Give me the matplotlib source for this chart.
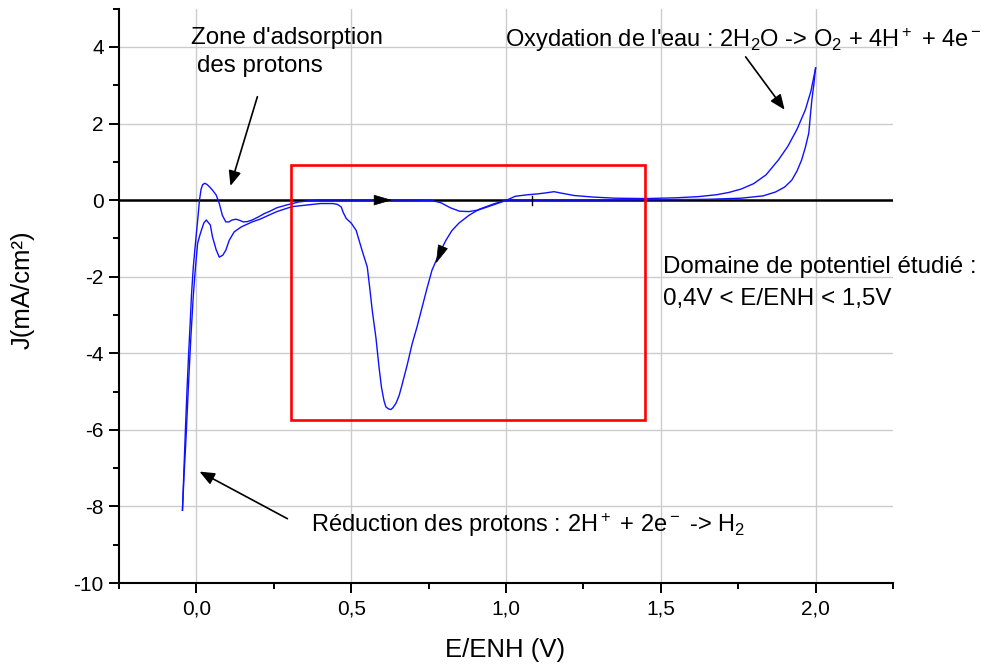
import matplotlib
matplotlib.use('Agg')
import matplotlib.pyplot as plt
from matplotlib.patches import Rectangle
from matplotlib.ticker import MultipleLocator, FuncFormatter

plt.rcParams['font.family'] = ['Liberation Sans', 'DejaVu Sans']
plt.rcParams['mathtext.fontset'] = 'custom'
plt.rcParams['mathtext.rm'] = 'Liberation Sans'
plt.rcParams['mathtext.it'] = 'Liberation Sans:italic'
plt.rcParams['mathtext.bf'] = 'Liberation Sans:bold'
plt.rcParams['axes.unicode_minus'] = False

# ---- data: forward (anodic) scan ----
E_fwd = [-0.045, -0.040, -0.035, -0.030, -0.025, -0.020, -0.016, -0.010, -0.005, 0.000,
         0.005, 0.010, 0.015, 0.020, 0.027, 0.034, 0.042, 0.053, 0.064, 0.074,
         0.084, 0.095, 0.105, 0.115, 0.128, 0.140, 0.152, 0.165, 0.180, 0.200,
         0.220, 0.235, 0.260, 0.290, 0.330, 0.360, 0.400, 0.500, 0.600, 0.700,
         0.760, 0.790, 0.820, 0.850, 0.880, 0.910, 0.950, 1.000, 1.030, 1.070,
         1.100, 1.130, 1.155, 1.180, 1.220, 1.280, 1.350, 1.450, 1.550, 1.620,
         1.680, 1.720, 1.760, 1.800, 1.840, 1.880, 1.910, 1.940, 1.967, 1.985, 2.000]
J_fwd = [-8.1, -7.0, -5.9, -4.9, -4.0, -3.2, -2.5, -1.75, -1.3, -0.87,
         -0.45, 0.0, 0.28, 0.40, 0.44, 0.41, 0.35, 0.25, 0.13, -0.09,
         -0.40, -0.57, -0.57, -0.52, -0.50, -0.53, -0.57, -0.56, -0.52, -0.44,
         -0.35, -0.30, -0.20, -0.13, -0.05, -0.02, 0.0, 0.0, 0.0, 0.0,
         -0.01, -0.07, -0.20, -0.29, -0.30, -0.26, -0.15, -0.01, 0.10, 0.14,
         0.16, 0.19, 0.22, 0.18, 0.12, 0.08, 0.05, 0.04, 0.06, 0.09,
         0.14, 0.20, 0.29, 0.43, 0.66, 1.05, 1.40, 1.85, 2.36, 2.85, 3.45]

# ---- data: reverse (cathodic) scan ----
E_rev = [2.000, 1.994, 1.988, 1.983, 1.978, 1.967, 1.955, 1.940, 1.923, 1.900,
         1.870, 1.830, 1.760, 1.650, 1.500, 1.300, 1.100, 1.000, 0.960, 0.913,
         0.880, 0.848, 0.825, 0.806, 0.784, 0.761, 0.745, 0.729, 0.713, 0.697,
         0.681, 0.665, 0.655, 0.645, 0.635, 0.628, 0.620, 0.612, 0.606, 0.598,
         0.590, 0.580, 0.568, 0.560, 0.552, 0.535, 0.516, 0.500, 0.484, 0.474,
         0.468, 0.455, 0.440, 0.400, 0.355, 0.310, 0.290, 0.260, 0.235, 0.205,
         0.180, 0.145, 0.122, 0.106, 0.095, 0.085, 0.074, 0.064, 0.052, 0.045,
         0.032, 0.024, 0.016, 0.010, 0.004, -0.003, -0.010, -0.018, -0.026, -0.034,
         -0.040, -0.045]
J_rev = [3.45, 3.00, 2.62, 2.20, 1.75, 1.38, 1.05, 0.76, 0.52, 0.34,
         0.21, 0.11, 0.05, 0.02, 0.01, 0.0, 0.0, 0.0, -0.10, -0.24,
         -0.40, -0.60, -0.80, -1.05, -1.40, -1.83, -2.30, -2.80, -3.30, -3.75,
         -4.30, -4.80, -5.10, -5.30, -5.42, -5.47, -5.45, -5.40, -5.24, -4.90,
         -4.37, -3.60, -2.88, -2.30, -1.75, -1.31, -0.79, -0.60, -0.48, -0.32,
         -0.18, -0.11, -0.09, -0.09, -0.13, -0.17, -0.22, -0.30, -0.39, -0.50,
         -0.57, -0.70, -0.83, -1.05, -1.31, -1.44, -1.49, -1.30, -0.96, -0.65,
         -0.52, -0.60, -0.79, -0.95, -1.13, -1.75, -2.50, -3.60, -4.90, -6.30,
         -7.20, -8.10]

x_ticks = [0.0, 0.5, 1.0, 1.5, 2.0]
y_ticks = [-10, -8, -6, -4, -2, 0, 2, 4]

# studied potential window (red box): E range, J range
box_E = [0.305, 1.45]
box_J = [-5.75, 0.91]

fig = plt.figure(figsize=(9.85, 6.69), dpi=100)
ax = fig.add_axes([0.1208, 0.1285, 0.7858, 0.8586])
ax.set_xlim(-0.25, 2.25)
ax.set_ylim(-10, 5)

ax.grid(True, which='major', color='#cccccc', lw=1.0)
ax.set_axisbelow(True)
ax.axhline(0, color='black', lw=1.8, zorder=2)

ax.plot(E_fwd, J_fwd, color='#1010ff', lw=1.0, zorder=3)
ax.plot(E_rev, J_rev, color='#1010ff', lw=1.0, zorder=3)

ax.add_patch(Rectangle((box_E[0], box_J[0]), box_E[1] - box_E[0], box_J[1] - box_J[0],
                       fill=False, edgecolor='#ff0000', lw=1.9, zorder=4))

# direction arrowheads on the curve
ax.annotate('', xy=(0.632, 0.0), xytext=(0.58, 0.0),
            arrowprops=dict(arrowstyle='-|>,head_length=1.2,head_width=0.35', mutation_scale=10,
                            color='black', lw=0.5, shrinkA=0, shrinkB=0), zorder=5)
ax.annotate('', xy=(0.774, -1.65), xytext=(0.794, -1.26),
            arrowprops=dict(arrowstyle='-|>,head_length=1.2,head_width=0.35', mutation_scale=10,
                            color='black', lw=0.5, shrinkA=0, shrinkB=0), zorder=5)
ax.plot([1.085, 1.085], [-0.13, 0.12], color='black', lw=1.0, zorder=5)

# annotation arrows
arr = dict(arrowstyle='-|>,head_length=0.6,head_width=0.25', mutation_scale=15,
           color='black', lw=1.2, shrinkA=0, shrinkB=0)
ax.annotate('', xy=(0.110, 0.37), xytext=(0.197, 2.70), arrowprops=arr)
ax.annotate('', xy=(1.900, 2.36), xytext=(1.774, 3.74), arrowprops=arr)
ax.annotate('', xy=(0.010, -7.09), xytext=(0.294, -8.32), arrowprops=arr)

fs = 17.4
ax.text(-0.019, 4.07, "Zone d'adsorption", fontsize=fs, ha='left', va='baseline')
ax.text(0.003, 3.34, "des protons", fontsize=fs, ha='left', va='baseline')
ax.text(0.998, 3.99, "Oxydation de l'eau : 2H$_2$O -> O$_2$ + 4H$^+$ + 4e$^-$",
        fontsize=17, ha='left', va='baseline', clip_on=False)
ax.text(1.507, -1.91, "Domaine de potentiel étudié :", fontsize=fs, ha='left', va='baseline',
        clip_on=False)
ax.text(1.507, -2.74, "0,4V < E/ENH < 1,5V", fontsize=fs, ha='left', va='baseline',
        clip_on=False)
ax.text(0.369, -8.66, "Réduction des protons : 2H$^+$ + 2e$^-$ -> H$_2$", fontsize=17,
        ha='left', va='baseline')

ax.set_xticks(x_ticks)
ax.set_yticks(y_ticks)
ax.xaxis.set_minor_locator(MultipleLocator(0.25))
ax.yaxis.set_minor_locator(MultipleLocator(1))
ax.xaxis.set_major_formatter(FuncFormatter(lambda v, p: f"{v:.1f}".replace('.', ',')))
ax.yaxis.set_major_formatter(FuncFormatter(lambda v, p: f"{int(round(v))}"))

for s in ['top', 'right']:
    ax.spines[s].set_visible(False)
for s in ['left', 'bottom']:
    ax.spines[s].set_linewidth(1.5)

ax.tick_params(which='major', direction='out', length=7, width=1.4, labelsize=15)
ax.tick_params(which='minor', direction='out', length=4.5, width=1.4)
ax.tick_params(axis='x', which='major', pad=5)
ax.tick_params(axis='y', which='major', pad=4)

ax.set_xlabel('E/ENH (V)', fontsize=18.5)
ax.set_ylabel('J(mA/cm²)', fontsize=18.5)
ax.xaxis.set_label_coords(0.4994, -0.095)
ax.yaxis.set_label_coords(-0.1085, 0.511)

fig.savefig('out.png', dpi=100)
